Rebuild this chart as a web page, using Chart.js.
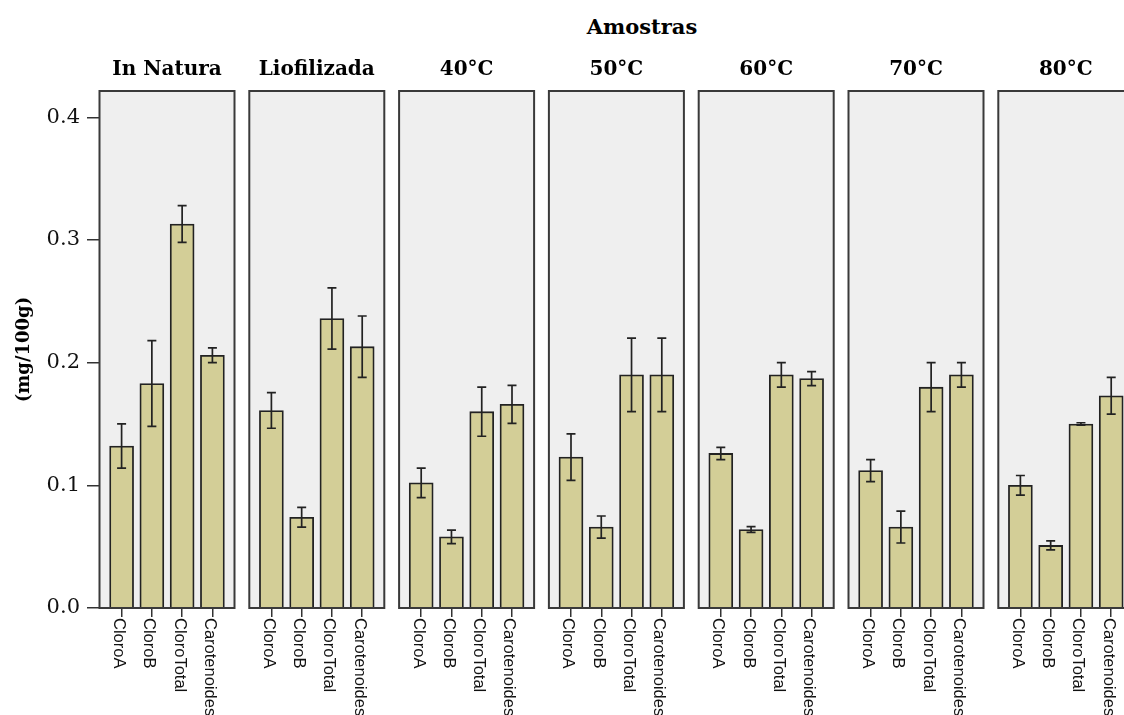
<!DOCTYPE html>
<html>
<head>
<meta charset="utf-8">
<script src="https://cdn.jsdelivr.net/npm/chart.js@4.4.1/dist/chart.umd.min.js"></script>
<style>
  html, body { margin: 0; padding: 0; background: #fff; }
  #wrap { position: relative; width: 1124px; height: 715px; overflow: hidden; background: #fff; }
  #wrap canvas { position: absolute; left: 0; top: 0; }
  #mainTitle {
    position: absolute; left: 542px; width: 200px; top: 14px;
    text-align: center; font: bold 21px "DejaVu Serif", serif; color: #000;
  }
</style>
</head>
<body>
<div id="wrap">
  <div id="mainTitle">Amostras</div>
</div>
<script>
// Pigment contents (mg/100g) per sample: means and standard deviations
const categories = ['CloroA', 'CloroB', 'CloroTotal', 'Carotenoides'];
const panels = ['In Natura', 'Liofilizada', '40°C', '50°C', '60°C', '70°C', '80°C'];

const inNatura      = [0.132, 0.183, 0.313, 0.206];
const inNaturaSd    = [0.018, 0.035, 0.015, 0.006];
const liofilizada   = [0.161, 0.074, 0.236, 0.213];
const liofilizadaSd = [0.0145, 0.008, 0.025, 0.025];
const t40           = [0.102, 0.058, 0.160, 0.166];
const t40Sd         = [0.012, 0.0055, 0.020, 0.0155];
const t50           = [0.123, 0.066, 0.190, 0.190];
const t50Sd         = [0.019, 0.009, 0.030, 0.030];
const t60           = [0.126, 0.064, 0.190, 0.187];
const t60Sd         = [0.005, 0.0023, 0.010, 0.0057];
const t70           = [0.112, 0.066, 0.180, 0.190];
const t70Sd         = [0.009, 0.013, 0.020, 0.010];
const t80           = [0.100, 0.051, 0.150, 0.173];
const t80Sd         = [0.008, 0.0037, 0.001, 0.015];

const yTicks = [0.0, 0.1, 0.2, 0.3, 0.4];

const panelMeans = [inNatura, liofilizada, t40, t50, t60, t70, t80];
const panelSds   = [inNaturaSd, liofilizadaSd, t40Sd, t50Sd, t60Sd, t70Sd, t80Sd];

// Layout of the facet strip
const CANVAS_W = 1240, CANVAS_H = 715;
const FIRST_LEFT = 99.5, PITCH = 149.8, PANEL_W = 135;
const AREA_TOP = 91, AREA_BOTTOM = 608;
const TITLE_BOX = 33;            // 24px line + 9px padding
const X_TICK = 9;

const BAR_FILL = '#d3ce97';
const INK = '#222';

// Panel background and frame
const panelFrame = {
  id: 'panelFrame',
  beforeDatasetsDraw(chart) {
    const a = chart.chartArea, ctx = chart.ctx;
    ctx.save();
    ctx.fillStyle = '#efefef';
    ctx.fillRect(a.left, a.top, a.right - a.left, a.bottom - a.top);
    ctx.restore();
  },
  afterDatasetsDraw(chart) {
    const a = chart.chartArea, ctx = chart.ctx;
    ctx.save();
    ctx.strokeStyle = '#3a3a3a';
    ctx.lineWidth = 2;
    ctx.strokeRect(a.left, a.top, a.right - a.left, a.bottom - a.top);
    ctx.restore();
  }
};

// Error bars (mean ± sd) drawn through the value scale
const errorBars = {
  id: 'errorBars',
  afterDatasetsDraw(chart, args, opts) {
    const ctx = chart.ctx, y = chart.scales.y;
    const meta = chart.getDatasetMeta(0);
    const sds = opts.sd || [];
    const means = opts.mean || [];
    ctx.save();
    ctx.strokeStyle = INK;
    ctx.lineWidth = 1.7;
    meta.data.forEach((bar, k) => {
      const hi = y.getPixelForValue(means[k] + sds[k]);
      const lo = y.getPixelForValue(means[k] - sds[k]);
      const x = bar.x;
      ctx.beginPath();
      ctx.moveTo(x, hi); ctx.lineTo(x, lo);
      ctx.moveTo(x - 4.5, hi); ctx.lineTo(x + 4.5, hi);
      ctx.moveTo(x - 4.5, lo); ctx.lineTo(x + 4.5, lo);
      ctx.stroke();
    });
    ctx.restore();
  }
};

// Category names under each panel, rotated to read downwards
const downLabels = {
  id: 'downLabels',
  afterDraw(chart) {
    const ctx = chart.ctx, xs = chart.scales.x;
    ctx.save();
    ctx.fillStyle = '#111';
    ctx.font = '16.5px "Liberation Sans", Arial, sans-serif';
    ctx.textAlign = 'left';
    ctx.textBaseline = 'middle';
    categories.forEach((name, k) => {
      const px = xs.getPixelForValue(k + 1);
      ctx.save();
      ctx.translate(px - 3, chart.chartArea.bottom + X_TICK + 1);
      ctx.rotate(Math.PI / 2);
      ctx.fillText(name, 0, 0);
      ctx.restore();
    });
    ctx.restore();
  }
};

const wrap = document.getElementById('wrap');

panels.forEach((name, i) => {
  const left = FIRST_LEFT + PITCH * i;
  const canvas = document.createElement('canvas');
  canvas.width = CANVAS_W;
  canvas.height = CANVAS_H;
  canvas.style.width = CANVAS_W + 'px';
  canvas.style.height = CANVAS_H + 'px';
  wrap.appendChild(canvas);

  const means = panelMeans[i];
  const sds = panelSds[i];
  const withAxis = i === 0;

  new Chart(canvas, {
    type: 'bar',
    data: {
      datasets: [{
        data: means.map((v, k) => ({ x: k + 1, y: v })),
        backgroundColor: BAR_FILL,
        borderColor: INK,
        borderWidth: 1.8,
        barThickness: 24
      }]
    },
    plugins: [panelFrame, errorBars, downLabels],
    options: {
      responsive: false,
      animation: false,
      devicePixelRatio: 1,
      events: [],
      layout: {
        padding: {
          left: withAxis ? 0 : left,
          right: CANVAS_W - (left + PANEL_W),
          top: AREA_TOP - TITLE_BOX,
          bottom: CANVAS_H - AREA_BOTTOM - X_TICK
        }
      },
      plugins: {
        legend: { display: false },
        tooltip: { enabled: false },
        title: {
          display: true,
          text: name,
          fullSize: false,
          color: '#000',
          font: { family: '"DejaVu Serif", serif', weight: 'bold', size: 20, lineHeight: 1.2 },
          padding: { top: 0, bottom: 9 }
        },
        errorBars: { mean: means, sd: sds }
      },
      scales: {
        x: {
          type: 'linear',
          offset: false,
          min: 0.27,
          max: 4.73,
          afterBuildTicks: s => { s.ticks = categories.map((c, k) => ({ value: k + 1 })); },
          afterFit: s => { s.height = X_TICK; },
          ticks: { display: false },
          grid: { offset: false, drawOnChartArea: false, drawTicks: true, tickLength: X_TICK, color: '#333', lineWidth: 1.5 },
          border: { display: false }
        },
        y: {
          display: withAxis,
          min: 0,
          max: 0.4214,
          afterBuildTicks: s => { s.ticks = yTicks.map(v => ({ value: v })); },
          afterFit: s => { if (withAxis) s.width = FIRST_LEFT; },
          ticks: {
            callback: v => Number(v).toFixed(1),
            color: '#111',
            padding: 7,
            font: { family: '"DejaVu Serif", serif', size: 21 }
          },
          grid: { drawOnChartArea: false, drawTicks: true, tickLength: 12.5, color: '#333', lineWidth: 1.5 },
          border: { display: false },
          title: {
            display: true,
            text: '(mg/100g)',
            color: '#000',
            font: { family: '"DejaVu Serif", serif', weight: 'bold', size: 18 },
            padding: { top: 14, bottom: 0 }
          }
        }
      }
    }
  });
});
</script>
</body>
</html>
